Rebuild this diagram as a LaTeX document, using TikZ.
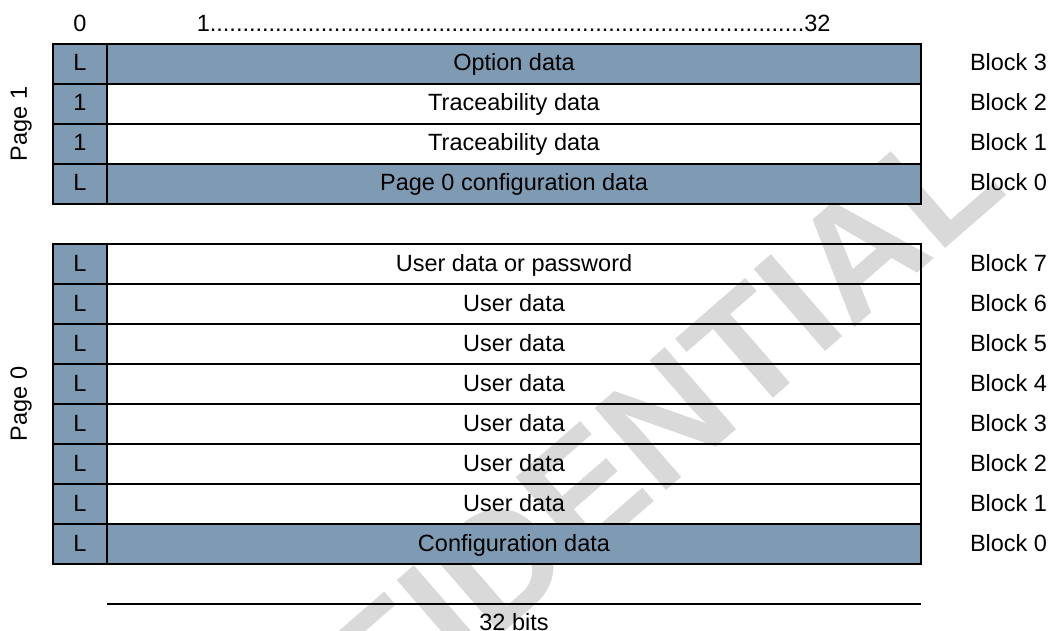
\documentclass[tikz,border=0pt]{standalone}
\usepackage{fontspec}
\setmainfont{Liberation Sans}
\definecolor{cellblue}{RGB}{127,154,179}
\definecolor{wmgray}{RGB}{217,217,217}
\begin{document}
\begin{tikzpicture}[x=1pt,y=-1pt,
  every node/.style={font=\fontsize{23.5}{28}\selectfont, inner sep=0pt, outer sep=0pt},
  cellbox/.style={draw=black, line width=2pt, minimum height=40pt, text height=17pt, text depth=3pt, anchor=center},
  bitcell/.style={cellbox, fill=cellblue, minimum width=54pt},
  datacell/.style={cellbox, minimum width=814pt},
  datafill/.style={cellbox, fill=cellblue, minimum width=814pt},
  blocklabel/.style={anchor=base west},
  pagelabel/.style={anchor=base, rotate=90},
  watermark/.style={font=\bfseries\fontsize{158}{158}\selectfont, text=wmgray, rotate=41, anchor=base east}
]
\useasboundingbox (0,0) rectangle (1052,631);
\begin{scope}
  \clip (0,0) rectangle (1052,631);
  \node[watermark] (wm) at (1010,192) {CONFIDENTIAL};
\end{scope}

% header
\node[anchor=base] (h0) at (80,32) {0};
\node[anchor=base west] (h1) at (196.8,32) {1...........................................................................................32};

% page 1
\node[bitcell] (p1b3) at (80,64) {L};
\node[datafill] (p1d3) at (514,64) {Option data};
\node[bitcell] (p1b2) at (80,104) {1};
\node[datacell] (p1d2) at (514,104) {Traceability data};
\node[bitcell] (p1b1) at (80,144) {1};
\node[datacell] (p1d1) at (514,144) {Traceability data};
\node[bitcell] (p1b0) at (80,184) {L};
\node[datafill] (p1d0) at (514,184) {Page 0 configuration data};
\node[blocklabel] (p1l3) at (970,71) {Block 3};
\node[blocklabel] (p1l2) at (970,111) {Block 2};
\node[blocklabel] (p1l1) at (970,151) {Block 1};
\node[blocklabel] (p1l0) at (970,191) {Block 0};
\node[pagelabel] (pg1) at (27,124) {Page 1};

% page 0
\node[bitcell] (p0b7) at (80,264) {L};
\node[datacell] (p0d7) at (514,264) {User data or password};
\node[bitcell] (p0b6) at (80,304) {L};
\node[datacell] (p0d6) at (514,304) {User data};
\node[bitcell] (p0b5) at (80,344) {L};
\node[datacell] (p0d5) at (514,344) {User data};
\node[bitcell] (p0b4) at (80,384) {L};
\node[datacell] (p0d4) at (514,384) {User data};
\node[bitcell] (p0b3) at (80,424) {L};
\node[datacell] (p0d3) at (514,424) {User data};
\node[bitcell] (p0b2) at (80,464) {L};
\node[datacell] (p0d2) at (514,464) {User data};
\node[bitcell] (p0b1) at (80,504) {L};
\node[datacell] (p0d1) at (514,504) {User data};
\node[bitcell] (p0b0) at (80,544) {L};
\node[datafill] (p0d0) at (514,544) {Configuration data};
\node[blocklabel] (p0l7) at (970,271) {Block 7};
\node[blocklabel] (p0l6) at (970,311) {Block 6};
\node[blocklabel] (p0l5) at (970,351) {Block 5};
\node[blocklabel] (p0l4) at (970,391) {Block 4};
\node[blocklabel] (p0l3) at (970,431) {Block 3};
\node[blocklabel] (p0l2) at (970,471) {Block 2};
\node[blocklabel] (p0l1) at (970,511) {Block 1};
\node[blocklabel] (p0l0) at (970,551) {Block 0};
\node[pagelabel] (pg0) at (27,404) {Page 0};

% width line
\coordinate (wl) at (107,604);
\coordinate (wr) at (921,604);
\draw[line width=1.8pt] (wl) -- (wr);
\node[anchor=base] (bits) at (514,630) {32 bits};
\end{tikzpicture}
\end{document}
